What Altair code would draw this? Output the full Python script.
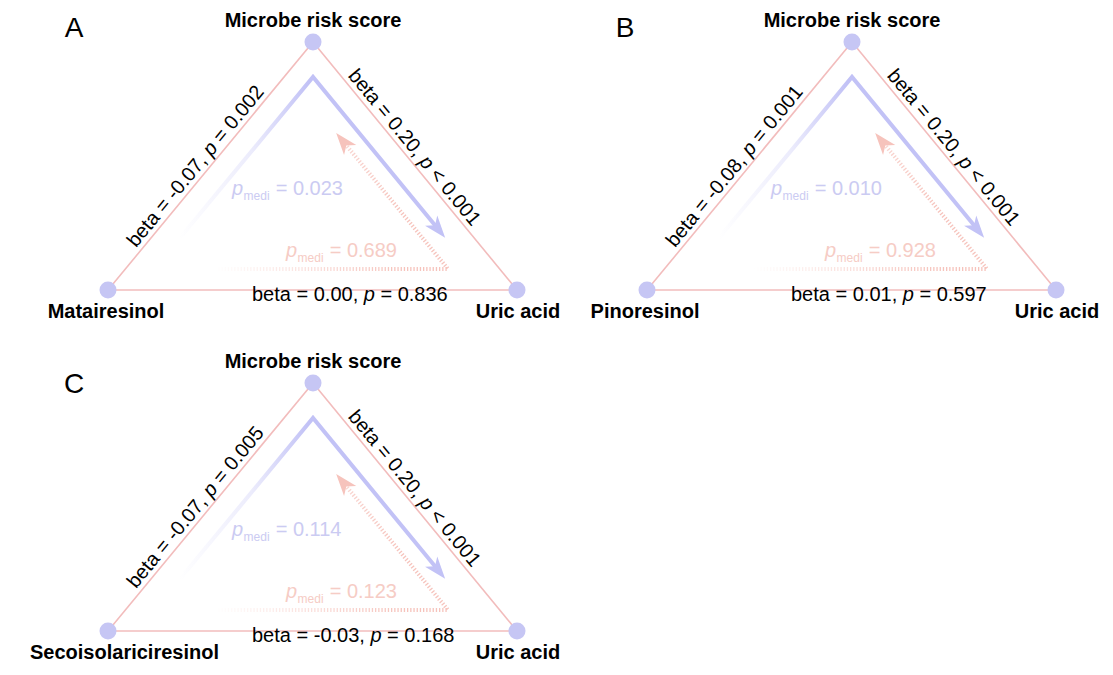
import math
import altair as alt
import pandas as pd

# ---- values ---------------------------------------------------------------
panel_letters = ["A", "B", "C"]
exposures = ["Matairesinol", "Pinoresinol", "Secoisolariciresinol"]
mediator = "Microbe risk score"
outcome = "Uric acid"

# exposure -> microbe risk score
beta_exp_mrs = ["-0.07", "-0.08", "-0.07"]
p_exp_mrs = ["= 0.002", "= 0.001", "= 0.005"]
# microbe risk score -> uric acid
beta_mrs_ua = ["0.20", "0.20", "0.20"]
p_mrs_ua = ["< 0.001", "< 0.001", "< 0.001"]
# exposure -> uric acid (direct)
beta_exp_ua = ["0.00", "0.01", "-0.03"]
p_exp_ua = ["= 0.836", "= 0.597", "= 0.168"]
# mediation p-values (forward / reverse direction)
p_medi_forward = ["0.023", "0.010", "0.114"]
p_medi_reverse = ["0.689", "0.928", "0.123"]

# ---- styling and layout ---------------------------------------------------
FONT = "Liberation Sans, Arial, Helvetica, sans-serif"
NODE = "#c6c6f4"
EDGE = "#f2bcbc"
BLUE = "#c2c2f6"
PINK = "#f6c3bc"
BLUE_TXT = "#cbcbf2"
PINK_TXT = "#f6ccc5"

W, H = 1113, 675
ORIGINS = [(0, 0), (539, 0), (0, 341)]
TOP, LEFT, RIGHT = (313, 42), (108, 290), (517, 290)
LETTER_POS = [(74, 37), (86, 37), (74, 52)]
FS = 20

REG = dict(zip(" =<,.-0123456789betapmdi",
               [278, 584, 584, 278, 278, 333] + [556] * 10 +
               [556, 556, 278, 556, 556, 833, 556, 222]))
BOLD = dict(zip(" MatirsenolPScbkUd",
                [278, 833, 556, 333, 278, 389, 556, 556, 611, 611, 278,
                 667, 667, 556, 611, 556, 722, 611]))


def twidth(s, table, size):
    return sum(table.get(c, 556) for c in s) * size / 1000.0


def unit(p, q):
    dx, dy = q[0] - p[0], q[1] - p[1]
    n = math.hypot(dx, dy)
    return dx / n, dy / n


def add(p, v, k=1.0):
    return (p[0] + k * v[0], p[1] + k * v[1])


def run_pieces(start, angle_deg, pieces, size, color):
    """Lay mixed-style text pieces one after another along a baseline."""
    rad = math.radians(angle_deg)
    ux, uy = math.cos(rad), math.sin(rad)
    rows, off = [], 0.0
    for txt, style in pieces:
        lead = len(txt) - len(txt.lstrip(" "))
        o = off + twidth(txt[:lead], REG, size)
        rows.append(dict(x=start[0] + o * ux, y=start[1] + o * uy,
                         text=txt.strip(), style=style,
                         angle=angle_deg % 360, color=color))
        off += twidth(txt, REG, size)
    return rows


u_l = unit(LEFT, TOP)            # left edge, pointing up-right
u_r = unit(TOP, RIGHT)           # right edge, pointing down-right
n_l = (u_l[1], -u_l[0])          # outward normals
n_r = (u_r[1], -u_r[0])
ang_l = math.degrees(math.atan2(u_l[1], u_l[0]))
ang_r = math.degrees(math.atan2(u_r[1], u_r[0]))

edge_rows, node_rows, path_rows, arrow_rows = [], [], [], []
text_rows, bold_rows, letter_rows = [], [], []

ARROW_LEN = 22.0

for i, letter in enumerate(panel_letters):
    ox, oy = ORIGINS[i]

    def g(p):
        return (p[0] + ox, p[1] + oy)

    top, left, right = g(TOP), g(LEFT), g(RIGHT)

    # triangle edges and nodes
    for a, b in [(left, top), (top, right), (left, right)]:
        edge_rows.append(dict(x=a[0], y=a[1], x2=b[0], y2=b[1]))
    for p in (top, left, right):
        node_rows.append(dict(x=p[0], y=p[1]))

    # forward mediation path (exposure -> microbe score -> uric acid)
    apex = add(top, (0, 35))
    b_start = add(apex, u_l, -209)
    b_tip = add(apex, u_r, 208)
    for k, p in enumerate([b_start, apex, add(b_tip, u_r, -14)]):
        path_rows.append(dict(panel=letter + "f", k=k, x=p[0], y=p[1], kind="fwd"))
    c = add(b_tip, u_r, -ARROW_LEN / 2)
    arrow_rows.append(dict(x=c[0], y=c[1], angle=ang_r % 360, color=BLUE))

    # reverse mediation path (dotted)
    corner = g((448, 269))
    p_start = g((215, 269))
    back = (-u_r[0], -u_r[1])
    p_tip = add(corner, back, 176)
    for k, p in enumerate([p_start, corner, add(p_tip, back, -14)]):
        path_rows.append(dict(panel=letter + "r", k=k, x=p[0], y=p[1], kind="rev"))
    c = add(p_tip, back, -ARROW_LEN / 2)
    arrow_rows.append(dict(x=c[0], y=c[1],
                           angle=math.degrees(math.atan2(back[1], back[0])) % 360,
                           color=PINK))

    # edge labels
    start_l = add(add(left, u_l, 50), n_l, 5)
    text_rows += run_pieces(start_l, ang_l,
                            [("beta = " + beta_exp_mrs[i] + ",", "r"), (" p", "i"),
                             (" " + p_exp_mrs[i], "r")], FS, "#000000")
    start_r = add(add(top, u_r, 48), n_r, 5)
    text_rows += run_pieces(start_r, ang_r,
                            [("beta = " + beta_mrs_ua[i] + ",", "r"), (" p", "i"),
                             (" " + p_mrs_ua[i], "r")], FS, "#000000")
    text_rows += run_pieces(g((252, 301)), 0,
                            [("beta = " + beta_exp_ua[i] + ",", "r"), (" p", "i"),
                             (" " + p_exp_ua[i], "r")], FS, "#000000")

    # mediation p-values with subscript
    for val, pos, col in [(p_medi_forward[i], (232, 195), BLUE_TXT),
                          (p_medi_reverse[i], (286, 257), PINK_TXT)]:
        x0, y0 = g(pos)
        wp = twidth("p", REG, FS)
        wm = twidth("medi", REG, 12)
        text_rows.append(dict(x=x0, y=y0, text="p", style="i", angle=0, color=col))
        text_rows.append(dict(x=x0 + wp + 0.5, y=y0 + 5, text="medi", style="s",
                              angle=0, color=col))
        text_rows.append(dict(x=x0 + wp + wm + 1 + twidth(" ", REG, FS), y=y0,
                              text="= " + val, style="r", angle=0, color=col))

    # node labels
    w_exp = twidth(exposures[i], BOLD, FS)
    bold_rows.append(dict(x=top[0], y=top[1] - 15, text=mediator))
    bold_rows.append(dict(x=max(left[0] - 2, ox + 30 + w_exp / 2), y=left[1] + 28,
                          text=exposures[i]))
    bold_rows.append(dict(x=right[0] + 1, y=right[1] + 28, text=outcome))

    lx, ly = LETTER_POS[i]
    letter_rows.append(dict(x=lx + ox, y=ly + oy, text=letter))

edges = pd.DataFrame(edge_rows)
nodes = pd.DataFrame(node_rows)
paths = pd.DataFrame(path_rows)
arrows = pd.DataFrame(arrow_rows)
texts = pd.DataFrame(text_rows)
bolds = pd.DataFrame(bold_rows)
letters = pd.DataFrame(letter_rows)

# ---- chart ------------------------------------------------------------------
xs = alt.Scale(domain=[0, W], range=[0, W], nice=False, zero=False)
ys = alt.Scale(domain=[0, H], range=[0, H], nice=False, zero=False)


def X(f="x"):
    return alt.X(f"{f}:Q", scale=xs, axis=None)


def Y(f="y"):
    return alt.Y(f"{f}:Q", scale=ys, axis=None)


edge_layer = alt.Chart(edges).mark_rule(color=EDGE, strokeWidth=1.6).encode(
    x=X(), y=Y(), x2="x2:Q", y2="y2:Q")

blue_grad = alt.LinearGradient(
    gradient="linear", x1=0, y1=0, x2=1, y2=0,
    stops=[alt.GradientStop(color="#ffffff", offset=0),
           alt.GradientStop(color="#ececfc", offset=0.28),
           alt.GradientStop(color=BLUE, offset=0.5),
           alt.GradientStop(color=BLUE, offset=1)])
pink_grad = alt.LinearGradient(
    gradient="linear", x1=0, y1=0, x2=1, y2=0,
    stops=[alt.GradientStop(color="#ffffff", offset=0),
           alt.GradientStop(color=PINK, offset=0.8),
           alt.GradientStop(color=PINK, offset=1)])

fwd_layer = alt.Chart(paths).transform_filter(alt.datum.kind == "fwd").mark_line(
    stroke=blue_grad, strokeWidth=4).encode(
    x=X(), y=Y(), detail="panel:N", order="k:Q")
rev_layer = alt.Chart(paths).transform_filter(alt.datum.kind == "rev").mark_line(
    stroke=pink_grad, strokeWidth=4, strokeDash=[1.3, 1.9]).encode(
    x=X(), y=Y(), detail="panel:N", order="k:Q")

ARROW = "M1,0L-1,-0.72L-0.45,0L-1,0.72Z"
arrow_layer = alt.Chart(arrows).mark_point(
    shape=ARROW, filled=True, size=ARROW_LEN ** 2, opacity=1, strokeWidth=0).encode(
    x=X(), y=Y(), angle=alt.Angle("angle:Q", scale=None),
    color=alt.Color("color:N", scale=None))

node_layer = alt.Chart(nodes).mark_circle(size=290, color=NODE, opacity=1).encode(
    x=X(), y=Y())


def text_layer(style, **kw):
    return alt.Chart(texts).transform_filter(alt.datum.style == style).mark_text(
        align="left", baseline="alphabetic", font=FONT, **kw).encode(
        x=X(), y=Y(), text="text:N", angle=alt.Angle("angle:Q", scale=None),
        color=alt.Color("color:N", scale=None))


reg_layer = text_layer("r", fontSize=FS)
ital_layer = text_layer("i", fontSize=FS, fontStyle="italic")
sub_layer = text_layer("s", fontSize=12)

bold_layer = alt.Chart(bolds).mark_text(
    align="center", baseline="alphabetic", font=FONT, fontSize=FS,
    fontWeight="bold", color="#000000").encode(x=X(), y=Y(), text="text:N")

letter_layer = alt.Chart(letters).mark_text(
    align="center", baseline="alphabetic", font=FONT, fontSize=28,
    color="#000000").encode(x=X(), y=Y(), text="text:N")

chart = alt.layer(
    edge_layer, fwd_layer, rev_layer, arrow_layer, node_layer,
    reg_layer, ital_layer, sub_layer, bold_layer, letter_layer,
).properties(
    width=W, height=H, autosize="none", padding=0, background="#ffffff"
).configure_view(stroke=None)

chart.save("out.html", embed_options={"renderer": "svg", "actions": False})
